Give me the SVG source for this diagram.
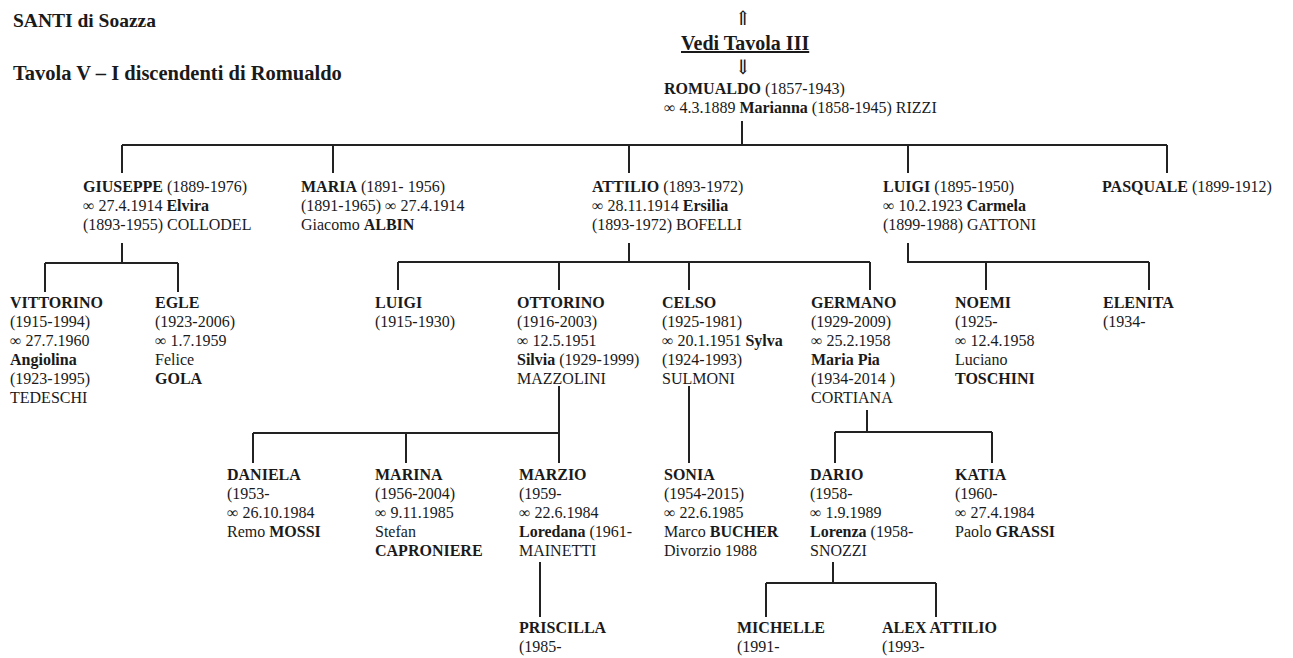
<svg xmlns="http://www.w3.org/2000/svg" width="1293" height="658" viewBox="0 0 1293 658">
<style>
text{font-family:"Liberation Serif","Times New Roman","DejaVu Serif",serif;font-size:16px;fill:#1a1a1a}
.b{font-weight:bold}
.t1{font-size:19.5px;font-weight:bold}
.t2{font-size:20.5px;font-weight:bold}
.vt{font-size:20px;font-weight:bold;text-decoration:underline}
.ar{font-family:"DejaVu Serif","Liberation Serif",serif;font-size:20px}
#connectors path{stroke:#222;stroke-width:2;fill:none}
</style>
<rect width="1293" height="658" fill="#fff"/>
<g id="title">
<text x="13" y="27" class="t1">SANTI di Soazza</text>
<text x="13" y="80" class="t2">Tavola V – I discendenti di Romualdo</text>
</g>
<g id="vedi">
<text x="743" y="25" class="ar" text-anchor="middle">⇑</text>
<text x="681" y="50" class="vt">Vedi Tavola III</text>
<text x="743" y="74" class="ar" text-anchor="middle">⇓</text>
</g>
<g id="romualdo"><text x="664" y="94"><tspan class="b">ROMUALDO</tspan> (1857-1943)<tspan x="664" dy="19">∞ 4.3.1889 <tspan class="b">Marianna</tspan> (1858-1945) RIZZI</tspan></text></g>

<g id="giuseppe"><text x="83" y="192"><tspan class="b">GIUSEPPE</tspan> (1889-1976)<tspan x="83" dy="19">∞ 27.4.1914 <tspan class="b">Elvira</tspan></tspan><tspan x="83" dy="19">(1893-1955) COLLODEL</tspan></text></g>
<g id="maria"><text x="301" y="192"><tspan class="b">MARIA</tspan> (1891- 1956)<tspan x="301" dy="19">(1891-1965) ∞ 27.4.1914</tspan><tspan x="301" dy="19">Giacomo <tspan class="b">ALBIN</tspan></tspan></text></g>
<g id="attilio"><text x="592" y="192"><tspan class="b">ATTILIO</tspan> (1893-1972)<tspan x="592" dy="19">∞ 28.11.1914 <tspan class="b">Ersilia</tspan></tspan><tspan x="592" dy="19">(1893-1972) BOFELLI</tspan></text></g>
<g id="luigi1"><text x="883" y="192"><tspan class="b">LUIGI</tspan> (1895-1950)<tspan x="883" dy="19">∞ 10.2.1923 <tspan class="b">Carmela</tspan></tspan><tspan x="883" dy="19">(1899-1988) GATTONI</tspan></text></g>
<g id="pasquale"><text x="1102" y="192"><tspan class="b">PASQUALE</tspan> (1899-1912)</text></g>

<g id="vittorino"><text x="10" y="308"><tspan class="b">VITTORINO</tspan><tspan x="10" dy="19">(1915-1994)</tspan><tspan x="10" dy="19">∞ 27.7.1960</tspan><tspan x="10" dy="19" class="b">Angiolina</tspan><tspan x="10" dy="19">(1923-1995)</tspan><tspan x="10" dy="19">TEDESCHI</tspan></text></g>
<g id="egle"><text x="155" y="308"><tspan class="b">EGLE</tspan><tspan x="155" dy="19">(1923-2006)</tspan><tspan x="155" dy="19">∞ 1.7.1959</tspan><tspan x="155" dy="19">Felice</tspan><tspan x="155" dy="19" class="b">GOLA</tspan></text></g>
<g id="luigi2"><text x="375" y="308"><tspan class="b">LUIGI</tspan><tspan x="375" dy="19">(1915-1930)</tspan></text></g>
<g id="ottorino"><text x="517" y="308"><tspan class="b">OTTORINO</tspan><tspan x="517" dy="19">(1916-2003)</tspan><tspan x="517" dy="19">∞ 12.5.1951</tspan><tspan x="517" dy="19"><tspan class="b">Silvia</tspan> (1929-1999)</tspan><tspan x="517" dy="19">MAZZOLINI</tspan></text></g>
<g id="celso"><text x="662" y="308"><tspan class="b">CELSO</tspan><tspan x="662" dy="19">(1925-1981)</tspan><tspan x="662" dy="19">∞ 20.1.1951 <tspan class="b">Sylva</tspan></tspan><tspan x="662" dy="19">(1924-1993)</tspan><tspan x="662" dy="19">SULMONI</tspan></text></g>
<g id="germano"><text x="811" y="308"><tspan class="b">GERMANO</tspan><tspan x="811" dy="19">(1929-2009)</tspan><tspan x="811" dy="19">∞ 25.2.1958</tspan><tspan x="811" dy="19" class="b">Maria Pia</tspan><tspan x="811" dy="19">(1934-2014 )</tspan><tspan x="811" dy="19">CORTIANA</tspan></text></g>
<g id="noemi"><text x="955" y="308"><tspan class="b">NOEMI</tspan><tspan x="955" dy="19">(1925-</tspan><tspan x="955" dy="19">∞ 12.4.1958</tspan><tspan x="955" dy="19">Luciano</tspan><tspan x="955" dy="19" class="b">TOSCHINI</tspan></text></g>
<g id="elenita"><text x="1103" y="308"><tspan class="b">ELENITA</tspan><tspan x="1103" dy="19">(1934-</tspan></text></g>

<g id="daniela"><text x="227" y="480"><tspan class="b">DANIELA</tspan><tspan x="227" dy="19">(1953-</tspan><tspan x="227" dy="19">∞ 26.10.1984</tspan><tspan x="227" dy="19">Remo <tspan class="b">MOSSI</tspan></tspan></text></g>
<g id="marina"><text x="375" y="480"><tspan class="b">MARINA</tspan><tspan x="375" dy="19">(1956-2004)</tspan><tspan x="375" dy="19">∞ 9.11.1985</tspan><tspan x="375" dy="19">Stefan</tspan><tspan x="375" dy="19" class="b">CAPRONIERE</tspan></text></g>
<g id="marzio"><text x="519" y="480"><tspan class="b">MARZIO</tspan><tspan x="519" dy="19">(1959-</tspan><tspan x="519" dy="19">∞ 22.6.1984</tspan><tspan x="519" dy="19"><tspan class="b">Loredana</tspan> (1961-</tspan><tspan x="519" dy="19">MAINETTI</tspan></text></g>
<g id="sonia"><text x="664" y="480"><tspan class="b">SONIA</tspan><tspan x="664" dy="19">(1954-2015)</tspan><tspan x="664" dy="19">∞ 22.6.1985</tspan><tspan x="664" dy="19">Marco <tspan class="b">BUCHER</tspan></tspan><tspan x="664" dy="19">Divorzio 1988</tspan></text></g>
<g id="dario"><text x="810" y="480"><tspan class="b">DARIO</tspan><tspan x="810" dy="19">(1958-</tspan><tspan x="810" dy="19">∞ 1.9.1989</tspan><tspan x="810" dy="19"><tspan class="b">Lorenza</tspan> (1958-</tspan><tspan x="810" dy="19">SNOZZI</tspan></text></g>
<g id="katia"><text x="955" y="480"><tspan class="b">KATIA</tspan><tspan x="955" dy="19">(1960-</tspan><tspan x="955" dy="19">∞ 27.4.1984</tspan><tspan x="955" dy="19">Paolo <tspan class="b">GRASSI</tspan></tspan></text></g>

<g id="priscilla"><text x="519" y="633"><tspan class="b">PRISCILLA</tspan><tspan x="519" dy="19">(1985-</tspan></text></g>
<g id="michelle"><text x="737" y="633"><tspan class="b">MICHELLE</tspan><tspan x="737" dy="19">(1991-</tspan></text></g>
<g id="alex"><text x="882" y="633"><tspan class="b">ALEX ATTILIO</tspan><tspan x="882" dy="19">(1993-</tspan></text></g>

<g id="connectors">
<path d="M742 121V145M122 145H1167M122 145V173M333 145V173M629 145V173M908 145V173M1167 145V173"/>
<path d="M122 243V263M45 263H178M45 263V292M178 263V292"/>
<path d="M629 243V262M398 262H870M398 262V290M559 262V290M689 262V290M870 262V290"/>
<path d="M908 243V262H1149M986 262V290M1149 262V290"/>
<path d="M559 386V463M253 433H559M253 433V463M406 433V463"/>
<path d="M689 386V463"/>
<path d="M867 410V432M835 432H992M835 432V463M992 432V463"/>
<path d="M540 562V617"/>
<path d="M833 562V583M766 583H936M766 583V617M936 583V617"/>
</g>
</svg>
